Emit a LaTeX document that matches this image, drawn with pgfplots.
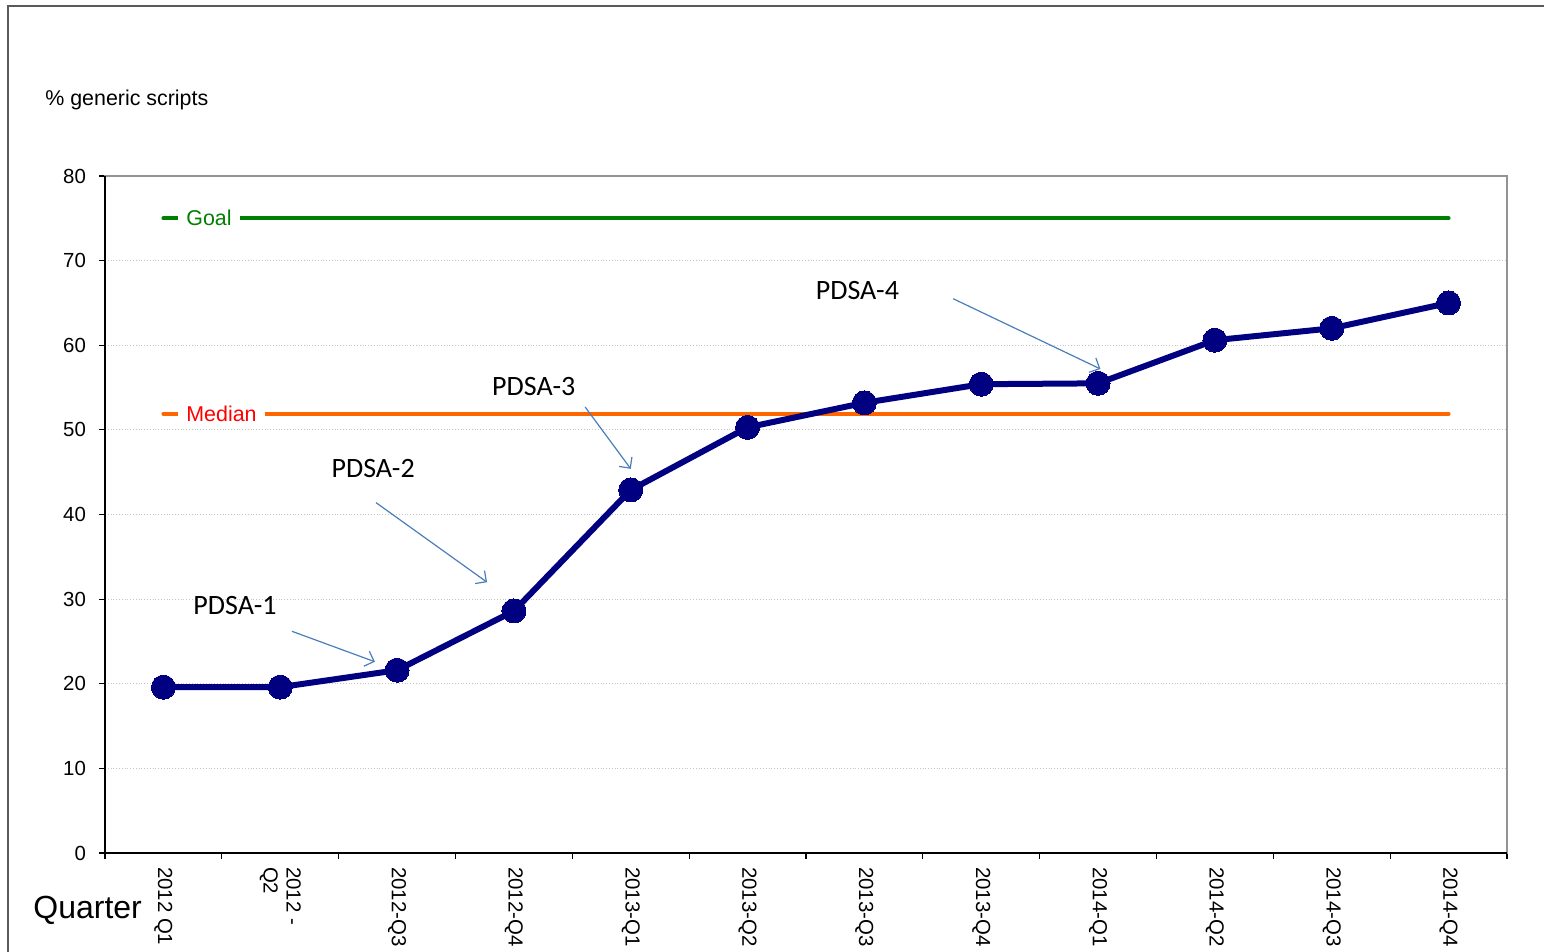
\documentclass[border=0pt]{standalone}
\usepackage{pgfplots}
\pgfplotsset{compat=1.18}
\usepackage{fontspec}
\setmainfont{Liberation Sans}
\newfontfamily\calibri{Carlito}
\usetikzlibrary{arrows.meta}
\definecolor{navyline}{RGB}{0,0,128}
\definecolor{goalgreen}{RGB}{0,128,0}
\definecolor{medorange}{RGB}{255,102,0}
\definecolor{medred}{RGB}{255,0,0}
\definecolor{arrowblue}{RGB}{74,126,187}
\definecolor{framegray}{RGB}{90,90,90}
\begin{document}
\begin{tikzpicture}
\useasboundingbox (0,0) rectangle (772pt,-476pt);
\draw[framegray, line width=0.6pt] (4pt,-476pt) -- (4pt,-3pt) -- (772pt,-3pt);
\node[anchor=west, font=\fontsize{10.7}{12}\selectfont, inner sep=0pt] at (22.5pt,-50pt) {\% generic scripts};
\node[anchor=west, font=\fontsize{16}{18}\selectfont, inner sep=0pt] at (16.5pt,-455pt) {Quarter};
\begin{axis}[
  at={(52.5pt,-426.5pt)}, anchor=south west,
  scale only axis, width=701pt, height=338.5pt,
  xmin=-0.5, xmax=11.5, ymin=0, ymax=80,
  ytick={0,10,...,80},
  xtick={0,...,11},
  xticklabels={2012 Q1,{2012 -\\Q2},2012-Q3,2012-Q4,2013-Q1,2013-Q2,2013-Q3,2013-Q4,2014-Q1,2014-Q2,2014-Q3,2014-Q4},
  minor xtick={-0.5,0.5,...,11.5},
  major x tick style={draw=none},
  xtick pos=bottom, ytick pos=left,
  tick align=outside,
  major tick length=3pt, minor tick length=3pt,
  tick style={black, line width=0.6pt},
  ymajorgrids,
  major grid style={densely dotted, gray!45, line width=0.5pt},
  axis line style={color=gray!85, line width=1.3pt},
  clip=false,
  tick label style={font=\fontsize{10.2}{11.5}\selectfont},
  /pgf/number format/assume math mode=true,
  yticklabel shift=3pt,
  xticklabel style={rotate=-90, anchor=west, align=left},
  xticklabel shift=0.5pt,
]
\draw[black, line width=0.9pt] (rel axis cs:0,1) -- (rel axis cs:0,0) -- (rel axis cs:1,0);

\addplot[goalgreen, line width=2pt, line cap=round] coordinates {(0,75) (11,75)};
\addplot[medorange, line width=2pt, line cap=round] coordinates {(0,51.9) (11,51.9)};
\node[fill=white, text=goalgreen, anchor=west, inner xsep=4pt, inner ysep=1pt, font=\fontsize{10.7}{12}\selectfont] at (axis cs:0.125,75) {Goal};
\node[fill=white, text=medred, anchor=west, inner xsep=4pt, inner ysep=1pt, font=\fontsize{10.7}{12}\selectfont] at (axis cs:0.125,51.9) {Median};

\addplot[navyline, line width=3pt, mark=*, mark size=6pt, mark options={fill=navyline, draw=navyline, line width=0pt}] coordinates {
(0,19.6) (1,19.6) (2,21.6) (3,28.6) (4,42.9) (5,50.3) (6,53.2) (7,55.4) (8,55.5) (9,60.6) (10,62.0) (11,65.0)};

\node[font=\calibri\fontsize{14}{16}\selectfont] at (axis cs:0.613,29.2) {PDSA-1};
\node[font=\calibri\fontsize{14}{16}\selectfont] at (axis cs:1.795,45.4) {PDSA-2};
\node[font=\calibri\fontsize{14}{16}\selectfont] at (axis cs:3.17,55.1) {PDSA-3};
\node[font=\calibri\fontsize{14}{16}\selectfont] at (axis cs:5.94,66.5) {PDSA-4};
\draw[arrowblue, line width=0.6pt, -{Straight Barb[length=4pt,width=8pt]}] (axis cs:1.10,26.2) -- (axis cs:1.81,22.6);
\draw[arrowblue, line width=0.6pt, -{Straight Barb[length=4pt,width=8pt]}] (axis cs:1.82,41.4) -- (axis cs:2.77,32.0);
\draw[arrowblue, line width=0.6pt, -{Straight Barb[length=4pt,width=8pt]}] (axis cs:3.61,52.7) -- (axis cs:4.00,45.4);
\draw[arrowblue, line width=0.6pt, -{Straight Barb[length=4pt,width=8pt]}] (axis cs:6.76,65.5) -- (axis cs:8.02,57.2);
\end{axis}
\end{tikzpicture}
\end{document}
